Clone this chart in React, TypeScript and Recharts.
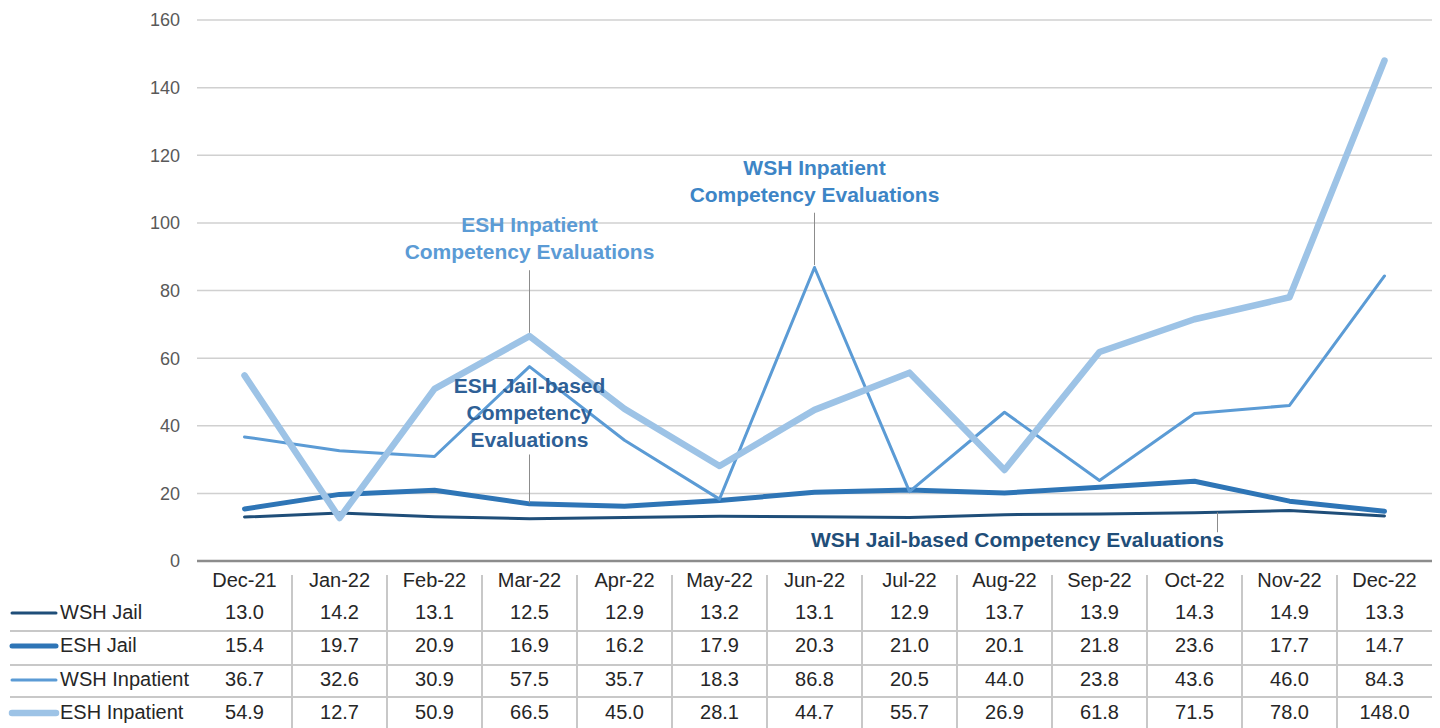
import React from "react"
import { LineChart, Line, XAxis, YAxis, CartesianGrid, ReferenceLine } from "recharts"

const months = ["Dec-21", "Jan-22", "Feb-22", "Mar-22", "Apr-22", "May-22", "Jun-22", "Jul-22", "Aug-22", "Sep-22", "Oct-22", "Nov-22", "Dec-22"]
const wshJail = [13.0, 14.2, 13.1, 12.5, 12.9, 13.2, 13.1, 12.9, 13.7, 13.9, 14.3, 14.9, 13.3]
const eshJail = [15.4, 19.7, 20.9, 16.9, 16.2, 17.9, 20.3, 21.0, 20.1, 21.8, 23.6, 17.7, 14.7]
const wshInpatient = [36.7, 32.6, 30.9, 57.5, 35.7, 18.3, 86.8, 20.5, 44.0, 23.8, 43.6, 46.0, 84.3]
const eshInpatient = [54.9, 12.7, 50.9, 66.5, 45.0, 28.1, 44.7, 55.7, 26.9, 61.8, 71.5, 78.0, 148.0]
const yTicks = [0, 20, 40, 60, 80, 100, 120, 140, 160]

const series = [
  { key: "wshJail", name: "WSH Jail", values: wshJail, color: "#1f4e79", width: 3 },
  { key: "eshJail", name: "ESH Jail", values: eshJail, color: "#2e75b6", width: 5 },
  { key: "wshInpatient", name: "WSH Inpatient", values: wshInpatient, color: "#5b9bd5", width: 3 },
  { key: "eshInpatient", name: "ESH Inpatient", values: eshInpatient, color: "#9dc3e6", width: 6.5 },
]

const data = months.map((month, i) => {
  const row: Record<string, string | number> = { month }
  series.forEach((s) => (row[s.key] = s.values[i]))
  return row
})

const W = 1440
const H = 728
const Y_AXIS_W = 197
const RIGHT = 8
const X_AXIS_H = 167
const PAD = 47.5
const COL_W = (W - Y_AXIS_W - RIGHT - 2 * PAD) / (months.length - 1)
const FONT = "'Liberation Sans', Arial, sans-serif"
const TEXT = "#262626"
const rowY = [51, 84, 118, 151]
const rowLines = [70, 104, 136]

function TableTick(props: any) {
  const { x, y, index, payload } = props
  return (
    <g fontFamily={FONT} fontSize={20} fill={TEXT}>
      <text x={x} y={y + 19} textAnchor="middle" dominantBaseline="central" fill={TEXT}>
        {payload.value}
      </text>
      {series.map((s, r) => (
        <text key={s.key} x={x} y={y + rowY[r]} textAnchor="middle" dominantBaseline="central" fill={TEXT}>
          {s.values[index].toFixed(1)}
        </text>
      ))}
      {index > 0 && (
        <line x1={x - COL_W / 2} x2={x - COL_W / 2} y1={y + 14} y2={y + X_AXIS_H} stroke="#c8c8c8" strokeWidth={2} />
      )}
      {index === 0 && (
        <g>
          {rowLines.map((ly) => (
            <line key={ly} x1={10} x2={W - RIGHT} y1={y + ly} y2={y + ly} stroke="#c8c8c8" strokeWidth={2} />
          ))}
          {series.map((s, r) => (
            <g key={s.key}>
              <line x1={12} x2={56} y1={y + rowY[r] + 1} y2={y + rowY[r] + 1} stroke={s.color} strokeWidth={s.width} strokeLinecap="round" />
              <text x={60} y={y + rowY[r]} dominantBaseline="central" fill={TEXT}>
                {s.name}
              </text>
            </g>
          ))}
        </g>
      )}
    </g>
  )
}

function annotation(lines: string[], color: string, gap: number) {
  return (props: any) => {
    const vb = props.viewBox || {}
    const cx = vb.x
    const top = vb.y
    return (
      <g>
        {lines.map((t, i) => (
          <text
            key={i}
            x={cx}
            y={top - gap - (lines.length - 1 - i) * 27}
            textAnchor="middle"
            fontFamily={FONT}
            fontSize={21}
            fontWeight="bold"
            fill={color}
          >
            {t}
          </text>
        ))}
      </g>
    )
  }
}

export default function App() {
  return (
    <div style={{ position: "absolute", left: 0, top: 0, width: W, height: H, background: "#fff" }}>
      <LineChart width={W} height={H} data={data} margin={{ top: 20, right: RIGHT, bottom: 0, left: 0 }}>
        <CartesianGrid vertical={false} stroke="#d0d0d0" strokeWidth={1.5} />
        <XAxis
          dataKey="month"
          interval={0}
          height={X_AXIS_H}
          padding={{ left: PAD, right: PAD }}
          tickLine={false}
          tickSize={0}
          tickMargin={0}
          axisLine={{ stroke: "#8c8c8c", strokeWidth: 2.5 }}
          tick={<TableTick />}
        />
        <YAxis
          domain={[0, 160]}
          ticks={yTicks}
          width={Y_AXIS_W}
          axisLine={false}
          tickLine={false}
          tickSize={0}
          tickMargin={17}
          tick={{ fill: "#595959", fontSize: 18, fontFamily: FONT }}
        />
        {series.map((s) => (
          <Line
            key={s.key}
            type="linear"
            dataKey={s.key}
            name={s.name}
            stroke={s.color}
            strokeWidth={s.width}
            strokeLinecap="round"
            strokeLinejoin="round"
            dot={false}
            activeDot={false}
            isAnimationActive={false}
          />
        ))}
        <ReferenceLine
          segment={[{ x: "Mar-22", y: 67.5 }, { x: "Mar-22", y: 86 }]}
          stroke="#8c8c8c"
          strokeWidth={1}
          label={{ content: annotation(["ESH Inpatient", "Competency Evaluations"], "#5b9bd5", 11) }}
        />
        <ReferenceLine
          segment={[{ x: "Jun-22", y: 87.5 }, { x: "Jun-22", y: 103 }]}
          stroke="#8c8c8c"
          strokeWidth={1}
          label={{ content: annotation(["WSH Inpatient", "Competency Evaluations"], "#3d85c6", 11) }}
        />
        <ReferenceLine
          segment={[{ x: "Mar-22", y: 17.2 }, { x: "Mar-22", y: 31.5 }]}
          stroke="#8c8c8c"
          strokeWidth={1}
          label={{ content: annotation(["ESH Jail-based", "Competency", "Evaluations"], "#2e6096", 7) }}
        />
        <ReferenceLine
          segment={[{ x: "Oct-22", y: 8.5 }, { x: "Oct-22", y: 14.4 }]}
          stroke="#8c8c8c"
          strokeWidth={1}
          shape={(p: any) => (
            <line x1={p.x1 + 23} x2={p.x2 + 23} y1={p.y1} y2={p.y2} stroke="#8c8c8c" strokeWidth={1} />
          )}
          label={{
            content: (props: any) => {
              const vb = props.viewBox || {}
              return (
                <text
                  x={vb.x - 177}
                  y={vb.y + (vb.height || 0) + 15}
                  textAnchor="middle"
                  fontFamily={FONT}
                  fontSize={21}
                  fontWeight="bold"
                  fill="#1f4e79"
                >
                  WSH Jail-based Competency Evaluations
                </text>
              )
            },
          }}
        />
      </LineChart>
    </div>
  )
}
